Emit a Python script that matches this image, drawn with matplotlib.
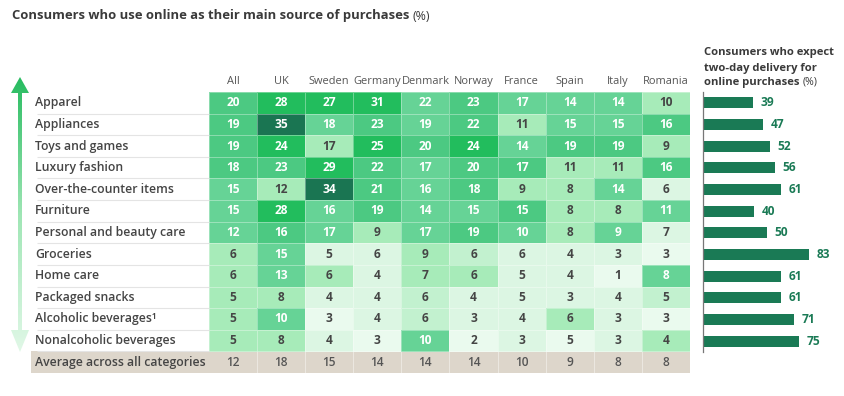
import matplotlib
matplotlib.use('Agg')
import matplotlib.pyplot as plt
import numpy as np
from matplotlib.colors import ListedColormap, LinearSegmentedColormap
from matplotlib.patches import Polygon

plt.rcParams['font.family'] = ['Open Sans', 'DejaVu Sans']

countries = ['All', 'UK', 'Sweden', 'Germany', 'Denmark', 'Norway',
             'France', 'Spain', 'Italy', 'Romania']
categories = ['Apparel', 'Appliances', 'Toys and games', 'Luxury fashion',
              'Over-the-counter items', 'Furniture', 'Personal and beauty care',
              'Groceries', 'Home care', 'Packaged snacks',
              'Alcoholic beverages\u00b9', 'Nonalcoholic beverages']
shares = np.array([
    [20, 28, 27, 31, 22, 23, 17, 14, 14, 10],
    [19, 35, 18, 23, 19, 22, 11, 15, 15, 16],
    [19, 24, 17, 25, 20, 24, 14, 19, 19, 9],
    [18, 23, 29, 22, 17, 20, 17, 11, 11, 16],
    [15, 12, 34, 21, 16, 18, 9, 8, 14, 6],
    [15, 28, 16, 19, 14, 15, 15, 8, 8, 11],
    [12, 16, 17, 9, 17, 19, 10, 8, 9, 7],
    [6, 15, 5, 6, 9, 6, 6, 4, 3, 3],
    [6, 13, 6, 4, 7, 6, 5, 4, 1, 8],
    [5, 8, 4, 4, 6, 4, 5, 3, 4, 5],
    [5, 10, 3, 4, 6, 3, 4, 6, 3, 3],
    [5, 8, 4, 3, 10, 2, 3, 5, 3, 4],
])
# shade band of every cell (0 = lightest)
shade = np.array([
    [5, 6, 6, 6, 4, 5, 4, 4, 4, 3],
    [5, 7, 4, 5, 4, 5, 3, 4, 4, 5],
    [5, 6, 3, 6, 5, 6, 4, 5, 5, 3],
    [5, 5, 6, 5, 4, 5, 5, 3, 3, 5],
    [4, 3, 7, 5, 4, 5, 3, 3, 4, 1],
    [4, 6, 4, 5, 4, 4, 5, 3, 3, 4],
    [4, 5, 4, 3, 4, 5, 4, 3, 4, 1],
    [3, 4, 1, 1, 3, 2, 1, 1, 1, 0],
    [3, 4, 3, 1, 3, 3, 1, 1, 0, 4],
    [3, 3, 1, 1, 2, 1, 1, 1, 1, 2],
    [3, 4, 0, 1, 2, 1, 1, 3, 1, 0],
    [3, 3, 1, 0, 4, 0, 1, 0, 1, 3],
])
average = [12, 18, 15, 14, 14, 14, 10, 9, 8, 8]
two_day = [39, 47, 52, 56, 61, 40, 50, 83, 61, 61, 71, 75]

palette = ['#eafaee', '#dcf6e3', '#c2f1cf', '#a7ebb9',
           '#66d396', '#4cc982', '#22bd5d', '#1a7552']
dark_text = '#454545'
bar_green = '#1a7a55'

W, H = 845, 396
fig = plt.figure(figsize=(W / 100, H / 100), dpi=100)


def box(x0, y0, x1, y1):
    return [x0 / W, 1 - y1 / H, (x1 - x0) / W, (y1 - y0) / H]


def px(x, y):
    return x / W, 1 - y / H


ncol, nrow = len(countries), len(categories)

# heatmap (with the label column on its left)
ax = fig.add_axes(box(31, 92, 690, 373))
lab_w = (209 - 31) / ((690 - 209) / ncol)
ax.set_xlim(-lab_w, ncol)
ax.set_ylim(nrow + 1, 0)
ax.axis('off')

ax.axhspan(nrow, nrow + 1, color='#ddd6cb', lw=0)
ax.vlines(np.arange(1, ncol), nrow, nrow + 1, color='white', alpha=0.5, lw=0.6)
ax.hlines(np.arange(1, nrow + 1), -lab_w + 0.12, 0, color='#e4e4e4', lw=0.8)

ax.pcolormesh(np.arange(ncol + 1), np.arange(nrow + 1), shade,
              cmap=ListedColormap(palette), vmin=-0.5, vmax=len(palette) - 0.5,
              edgecolors=(1, 1, 1, 0.35), linewidth=0.6)

for i in range(nrow):
    for j in range(ncol):
        ax.text(j + 0.5, i + 0.5, str(shares[i, j]), ha='center', va='center',
                fontsize=8.6, fontweight='bold',
                color='white' if shade[i, j] >= 4 else dark_text)
for j in range(ncol):
    ax.text(j + 0.5, nrow + 0.5, str(average[j]), ha='center', va='center',
            fontsize=8.6, fontweight='semibold', color='#555555')
    ax.text(j + 0.5, -0.5, countries[j], ha='center', va='center',
            fontsize=7.9, color='#555555')

for i, cat in enumerate(categories + ['Average across all categories']):
    ax.text(-lab_w + 0.08, i + 0.5, cat, ha='left', va='center',
            fontsize=8.8, fontweight='semibold', color='#454545')

# gradient double arrow on the far left
ax_arrow = fig.add_axes(box(8, 76, 32, 354))
ax_arrow.set_xlim(0, 24)
ax_arrow.set_ylim(278, 0)
ax_arrow.axis('off')
shape = Polygon([(12, 1), (21, 17), (14, 17), (14, 254), (21, 254), (12, 276),
                 (3, 254), (10, 254), (10, 17), (3, 17)],
                closed=True, facecolor='none', edgecolor='none')
ax_arrow.add_patch(shape)
grad = np.linspace(0, 1, 256).reshape(-1, 1)
img = ax_arrow.imshow(grad, extent=(0, 24, 278, 0), aspect='auto',
                      cmap=LinearSegmentedColormap.from_list(
                          'g', ['#26bb5f', '#9fe6b5', '#e2f8e8']))
img.set_clip_path(shape)

# two-day delivery bars
ax_bar = fig.add_axes(box(703, 92, 831, 352))
ax_bar.barh(np.arange(nrow), two_day, height=0.5, color=bar_green)
ax_bar.set_xlim(0, 100)
ax_bar.set_ylim(nrow - 0.5, -0.5)
for s in ['top', 'right', 'bottom']:
    ax_bar.spines[s].set_visible(False)
ax_bar.spines['left'].set_color('#777777')
ax_bar.spines['left'].set_linewidth(0.9)
ax_bar.set_xticks([])
ax_bar.set_yticks([])
for i, v in enumerate(two_day):
    ax_bar.text(v + 6, i, str(v), ha='left', va='center', fontsize=8.6,
                fontweight='bold', color=bar_green)

# titles with a normal-weight "(%)" after the bold part
renderer = fig.canvas.get_renderer()


def title_with_pct(x, y, bold_text, size):
    t = fig.text(*px(x, y), bold_text, ha='left', va='center', fontsize=size,
                 fontweight='bold', color='#3a3a3a')
    bb = t.get_window_extent(renderer)
    fig.text(bb.x1 / W + 3 / W, 1 - y / H, '(%)', ha='left', va='center',
             fontsize=size - 0.5, color='#3a3a3a')


title_with_pct(12, 16, 'Consumers who use online as their main source of purchases', 9.4)
fig.text(*px(704, 53), 'Consumers who expect', ha='left', va='center',
         fontsize=8.1, fontweight='bold', color='#3a3a3a')
fig.text(*px(704, 68), 'two-day delivery for', ha='left', va='center',
         fontsize=8.1, fontweight='bold', color='#3a3a3a')
title_with_pct(704, 82, 'online purchases', 8.1)

fig.savefig('out.png', dpi=100)
